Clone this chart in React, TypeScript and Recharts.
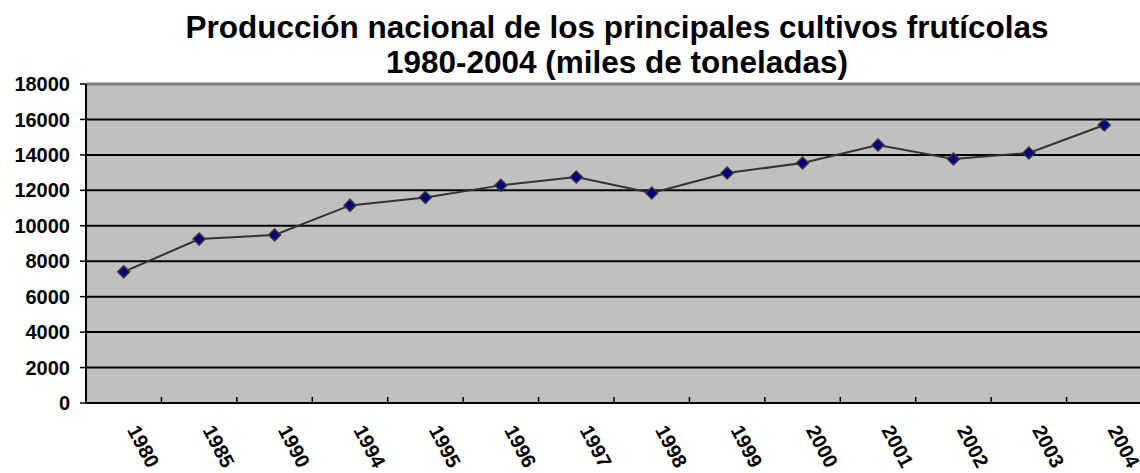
import React from "react";
import { LineChart, Line, XAxis, YAxis, CartesianGrid, ReferenceLine } from "recharts";

const years = ["1980", "1985", "1990", "1994", "1995", "1996", "1997", "1998", "1999", "2000", "2001", "2002", "2003", "2004"];
const production = [7400, 9250, 9480, 11150, 11600, 12280, 12750, 11850, 12980, 13540, 14560, 13770, 14110, 15690];
const yTicks = [0, 2000, 4000, 6000, 8000, 10000, 12000, 14000, 16000, 18000];

const data = years.map((y, i) => ({ year: y, value: production[i] }));

const W = 1142;
const H = 473;
const LEFT = 86;
const HALF_BAND = (W - LEFT) / years.length / 2;
const FONT = "Liberation Sans, Arial, sans-serif";

const Diamond = (props: any) => {
  const { cx, cy } = props;
  if (cx == null || cy == null) return null;
  const r = 6;
  return (
    <path
      d={`M${cx},${cy - r} L${cx + r},${cy} L${cx},${cy + r} L${cx - r},${cy} Z`}
      fill="#000080"
      stroke="#3a3a3a"
      strokeWidth={1.5}
    />
  );
};

const XTick = (props: any) => {
  const { x, y, payload, index } = props;
  return (
    <g>
      {index < years.length - 1 && (
        <line x1={x + HALF_BAND} x2={x + HALF_BAND} y1={y} y2={y - 6} stroke="#000" strokeWidth={1.5} />
      )}
      <text
        x={0}
        y={0}
        transform={`translate(${x + 3},${y + 27}) rotate(62)`}
        textAnchor="start"
        fontFamily={FONT}
        fontWeight="bold"
        fontSize={20}
        fill="#000"
      >
        {payload.value}
      </text>
    </g>
  );
};

export default function App() {
  return (
    <div style={{ position: "absolute", left: 0, top: 0, width: 1140, height: 473, overflow: "hidden", background: "#fff" }}>
      <div
        style={{
          position: "absolute",
          left: 0,
          top: 10,
          width: 1234,
          textAlign: "center",
          fontFamily: FONT,
          fontWeight: "bold",
          fontSize: 31.5,
          lineHeight: "35px",
          color: "#000",
        }}
      >
        Producción nacional de los principales cultivos frutícolas
        <br />
        1980-2004 (miles de toneladas)
      </div>
      <LineChart width={W} height={H} data={data} margin={{ top: 84, right: 0, left: 0, bottom: 0 }}>
        <CartesianGrid vertical={false} horizontal={true} stroke="#000" strokeWidth={2} fill="#C0C0C0" fillOpacity={1} />
        <ReferenceLine y={18000} stroke="#808080" strokeWidth={3} />
        <XAxis
          dataKey="year"
          scale="band"
          height={70}
          axisLine={{ stroke: "#000", strokeWidth: 2 }}
          tickLine={false}
          tickSize={0}
          tickMargin={0}
          interval={0}
          tick={<XTick />}
        />
        <YAxis
          width={LEFT}
          domain={[0, 18000]}
          ticks={yTicks}
          interval={0}
          axisLine={{ stroke: "#000", strokeWidth: 2 }}
          tickLine={{ stroke: "#000", strokeWidth: 1.5 }}
          tickSize={6}
          tickMargin={10}
          tick={{ fill: "#000", fontSize: 20, fontWeight: "bold", fontFamily: FONT }}
        />
        <Line
          type="linear"
          dataKey="value"
          stroke="#333333"
          strokeWidth={2}
          dot={<Diamond />}
          activeDot={false}
          isAnimationActive={false}
        />
      </LineChart>
    </div>
  );
}
